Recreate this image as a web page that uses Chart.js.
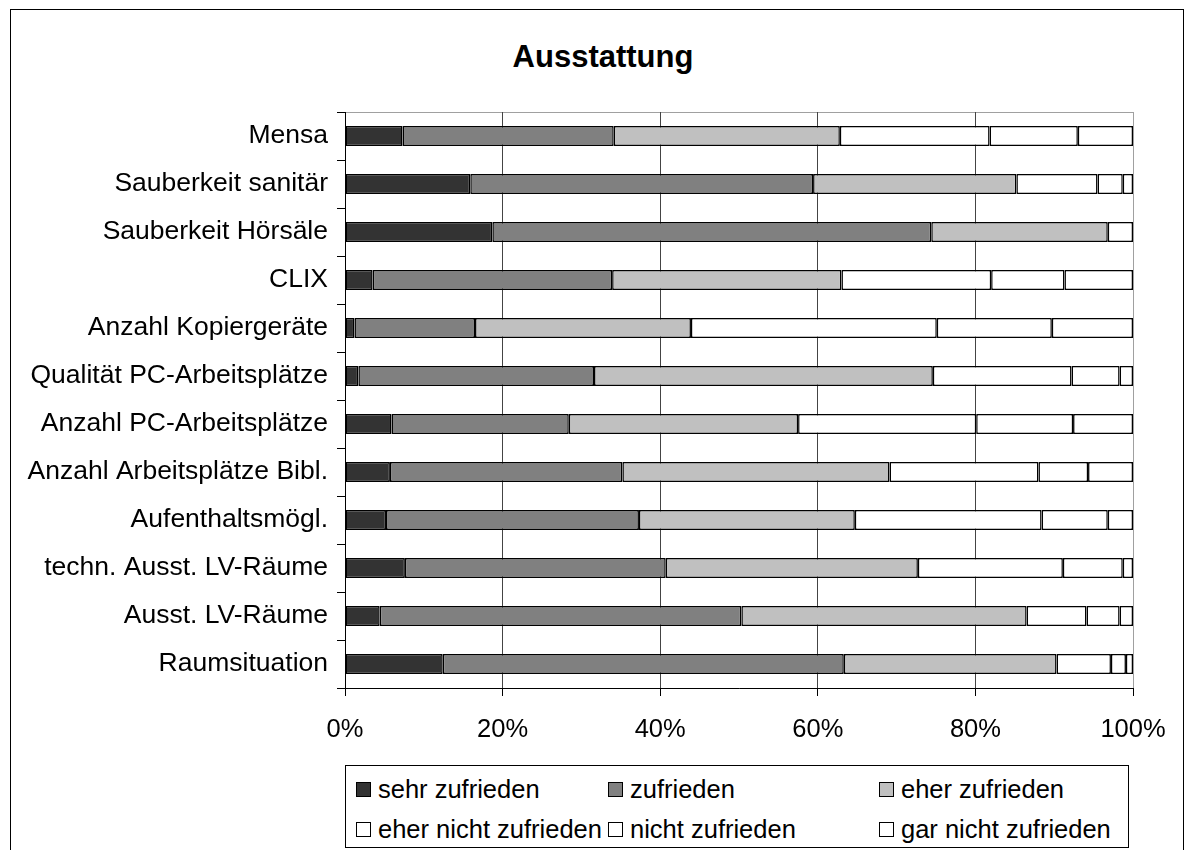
<!DOCTYPE html>
<html lang="de">
<head>
<meta charset="utf-8">
<title>Ausstattung</title>
<script src="https://cdn.jsdelivr.net/npm/chart.js@4.4.0/dist/chart.umd.min.js"></script>
<style>
    html, body { margin: 0; padding: 0; background: #fff; }
    body { width: 1194px; height: 850px; overflow: hidden; position: relative; font-family: "Liberation Sans", Arial, sans-serif; }
    #frame { position: absolute; left: 10px; top: 9px; width: 1172px; height: 900px; border: 1px solid #000; }
    #title { position: absolute; left: 0; top: 38px; width: 1206px; text-align: center; font-size: 31px; font-weight: bold; line-height: 38px; color: #000; }
    #wrap { position: absolute; left: 0; top: 0; width: 1194px; height: 850px; }
    #legend { position: absolute; left: 345px; top: 765px; width: 784px; height: 83px; border: 1px solid #000; box-sizing: border-box; background: #fff; }
    .item { position: absolute; font-size: 25.5px; line-height: 30px; height: 30px; white-space: nowrap; color: #000; }
    .swatch { display: inline-block; width: 13px; height: 13px; border: 1px solid #000; margin-right: 7px; vertical-align: 1px; }
</style>
</head>
<body>
<div id="frame"></div>
<div id="title">Ausstattung</div>
<div id="wrap"><canvas id="chart"></canvas></div>
<div id="legend"></div>
<script>
// Ausstattung - Zufriedenheit in % (gestapelt auf 100)
const categories = [
    'Mensa',
    'Sauberkeit sanitär',
    'Sauberkeit Hörsäle',
    'CLIX',
    'Anzahl Kopiergeräte',
    'Qualität PC-Arbeitsplätze',
    'Anzahl PC-Arbeitsplätze',
    'Anzahl Arbeitsplätze Bibl.',
    'Aufenthaltsmögl.',
    'techn. Ausst. LV-Räume',
    'Ausst. LV-Räume',
    'Raumsituation'
];

const seriesNames = ['sehr zufrieden', 'zufrieden', 'eher zufrieden', 'eher nicht zufrieden', 'nicht zufrieden', 'gar nicht zufrieden'];

const sehrZufrieden      = [7.3, 15.9, 18.7, 3.5, 1.2, 1.7, 5.9, 5.7, 5.2, 7.6, 4.4, 12.4];
const zufrieden          = [26.8, 43.5, 55.7, 30.4, 15.3, 29.9, 22.5, 29.5, 32.1, 33.1, 45.9, 50.9];
const eherZufrieden      = [28.7, 25.8, 22.4, 29.1, 27.4, 43.0, 29.1, 33.9, 27.4, 32.0, 36.2, 27.0];
const eherNichtZufrieden = [19.0, 10.3, 3.2, 19.0, 31.2, 17.6, 22.6, 18.9, 23.7, 18.4, 7.6, 6.9];
const nichtZufrieden     = [11.2, 3.2, 0, 9.3, 14.6, 6.1, 12.3, 6.3, 8.4, 7.6, 4.2, 1.9];
const garNichtZufrieden  = [7.0, 1.3, 0, 8.7, 10.3, 1.7, 7.6, 5.7, 3.2, 1.3, 1.7, 0.9];

const tickValues = [0, 20, 40, 60, 80, 100];

const seriesData = [sehrZufrieden, zufrieden, eherZufrieden, eherNichtZufrieden, nichtZufrieden, garNichtZufrieden];
const seriesColors = ['#333333', '#808080', '#c0c0c0', '#ffffff', '#ffffff', '#ffffff'];

const FONT = "'Liberation Sans', Arial, sans-serif";

// grey frame round the plot area (axes draw over left and bottom)
const plotFrame = {
    id: 'plotFrame',
    beforeDraw(chart) {
        const a = chart.chartArea;
        const ctx = chart.ctx;
        ctx.save();
        ctx.strokeStyle = '#a0a0a0';
        ctx.lineWidth = 1;
        ctx.strokeRect(a.left + 0.5, a.top + 0.5, a.right - a.left, a.bottom - a.top);
        ctx.restore();
    }
};

const ctx = document.getElementById('chart').getContext('2d');

new Chart(ctx, {
    type: 'bar',
    data: {
        labels: categories,
        datasets: seriesNames.map((name, i) => ({
            label: name,
            data: seriesData[i],
            backgroundColor: seriesColors[i],
            borderColor: '#000000',
            borderWidth: 1.5,
            borderSkipped: false,
            barPercentage: 0.42,
            categoryPercentage: 1.0
        }))
    },
    options: {
        indexAxis: 'y',
        responsive: true,
        maintainAspectRatio: false,
        animation: false,
        layout: {
            padding: { left: 5, right: 61, top: 112, bottom: 102 }
        },
        plugins: {
            legend: { display: false },
            tooltip: { enabled: false },
            title: { display: false }
        },
        scales: {
            x: {
                stacked: true,
                min: 0,
                max: 100,
                afterBuildTicks: function(scale) {
                    scale.ticks = tickValues.map(v => ({ value: v }));
                },
                afterFit: function(scale) {
                    scale.height = 60;
                },
                ticks: {
                    color: '#000',
                    font: { family: FONT, size: 25.5 },
                    padding: 19,
                    maxRotation: 0,
                    callback: function(value) {
                        return value + '%';
                    }
                },
                grid: {
                    color: function(context) {
                        return context.tick && context.tick.value === 100 ? '#a0a0a0' : '#444444';
                    },
                    lineWidth: 1,
                    tickLength: 8,
                    tickColor: '#000'
                },
                border: { color: '#000', width: 1 }
            },
            y: {
                stacked: true,
                afterFit: function(scale) {
                    scale.width = 340;
                },
                ticks: {
                    color: '#000',
                    font: { family: FONT, size: 26.5 },
                    padding: 9,
                    autoSkip: false
                },
                grid: {
                    drawOnChartArea: false,
                    offset: true,
                    tickLength: 8,
                    tickColor: '#000'
                },
                border: { color: '#000', width: 1 }
            }
        }
    },
    plugins: [plotFrame]
});

// legend box, three columns, two rows
const legendCols = [10, 262, 533];
const legendRows = [8, 48];
const legendBox = document.getElementById('legend');
seriesNames.forEach((name, i) => {
    const item = document.createElement('div');
    item.className = 'item';
    item.style.left = legendCols[i % 3] + 'px';
    item.style.top = legendRows[Math.floor(i / 3)] + 'px';
    const sw = document.createElement('span');
    sw.className = 'swatch';
    sw.style.background = seriesColors[i];
    item.appendChild(sw);
    item.appendChild(document.createTextNode(name));
    legendBox.appendChild(item);
});
</script>
</body>
</html>
